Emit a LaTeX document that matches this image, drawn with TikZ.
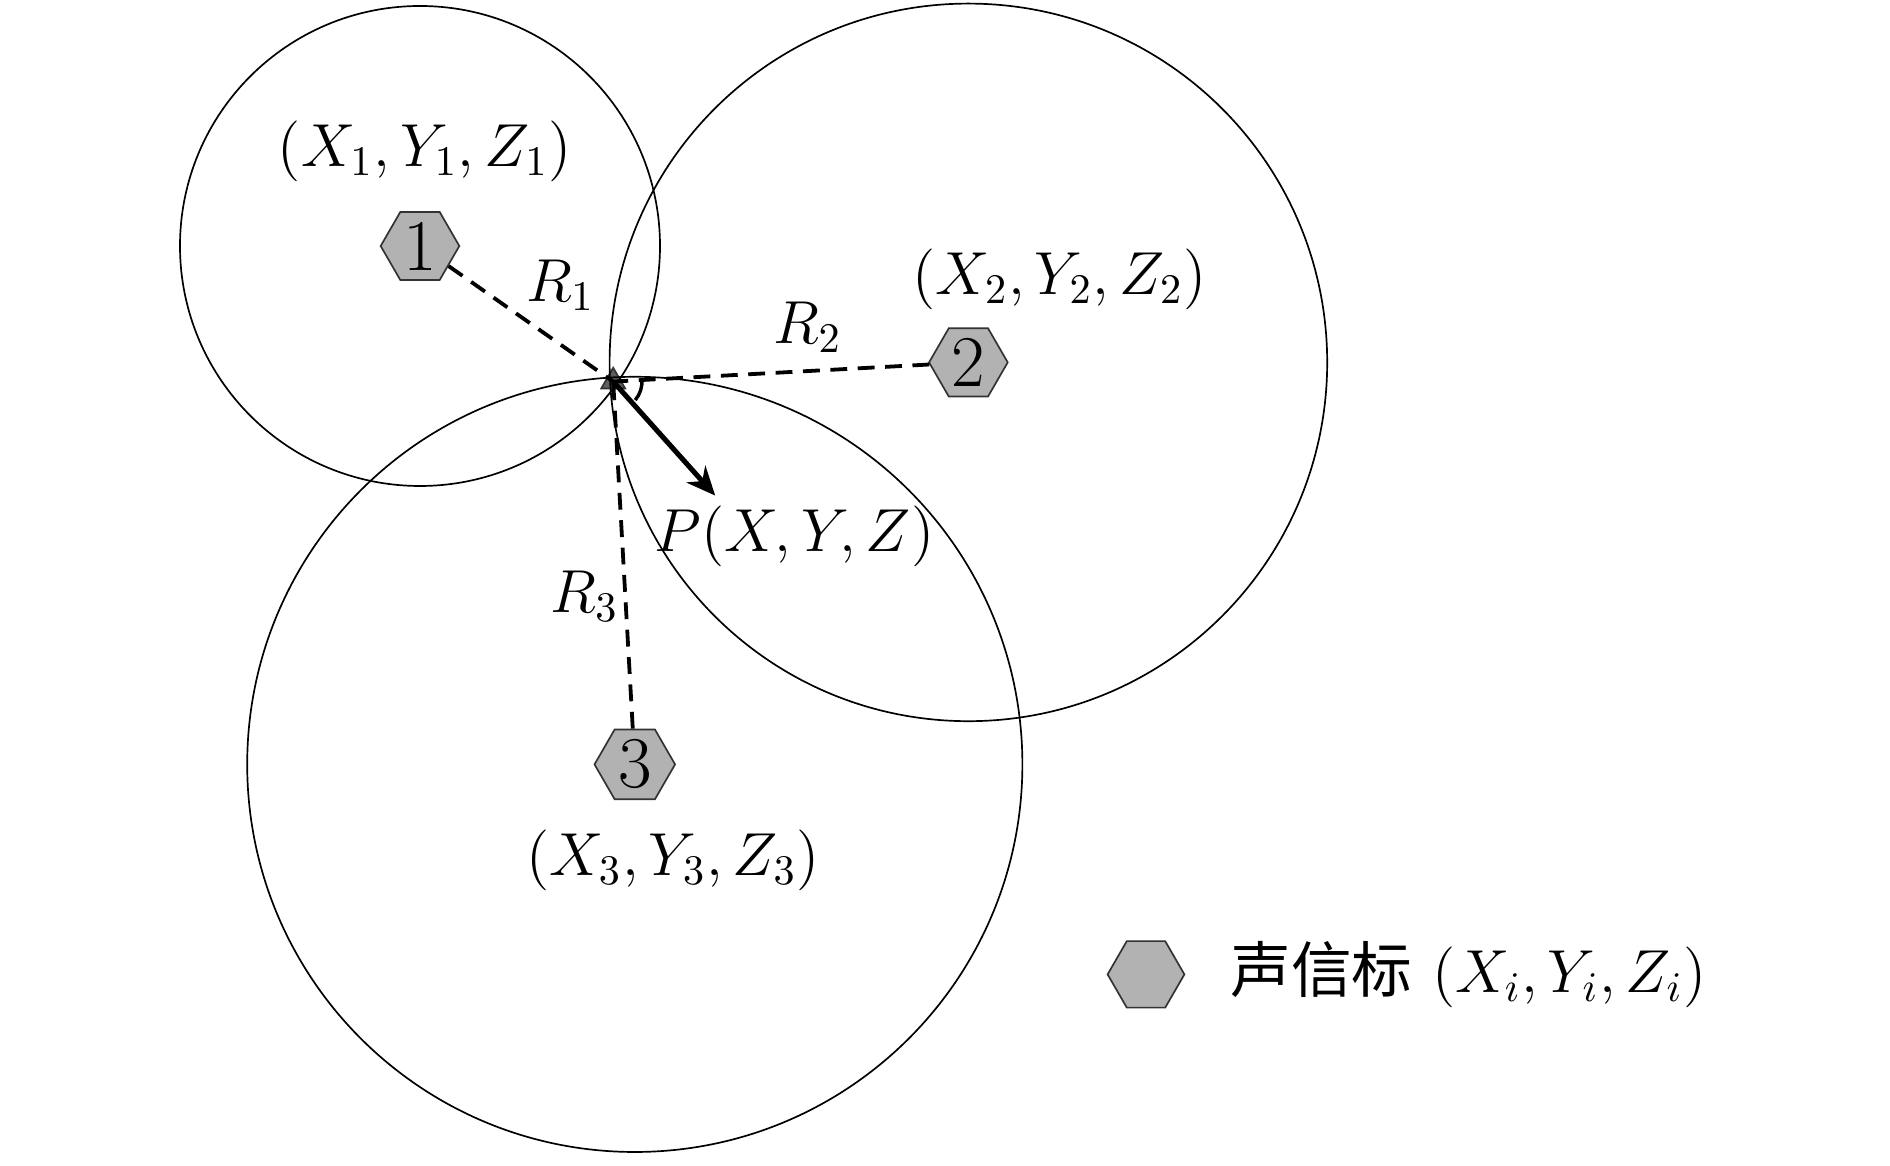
\documentclass[tikz,border=0pt]{standalone}
\usepackage{fontspec}
\newfontfamily\cjk{Noto Sans CJK SC}
\usetikzlibrary{shapes,arrows,arrows.meta,positioning}
\definecolor{beacongray}{RGB}{178,178,178}
\definecolor{targetgray}{RGB}{95,95,95}
\tikzset{
    % Beacon and target styles
    beacon/.style={
        regular polygon, regular polygon sides=6, draw=black!80, fill=beacongray,
        minimum size=0.64cm, inner sep=0pt, font=\LARGE
    },
    target/.style={
        regular polygon, regular polygon sides=3, draw=black!80, fill=targetgray,
        minimum size=0.23cm, inner sep=0pt
    },
    % Range lines and circles
    rangeline/.style={
        draw, line width=0.9pt, dash pattern=on 4pt off 2.5pt
    },
    ring/.style={
        draw, line width=0.4pt
    },
    coordlabel/.style={font=\Large}
}
\begin{document}
\begin{tikzpicture}
\useasboundingbox (0,0) rectangle (15.75,-9.71);

% Beacons and target
\node[beacon] (b1) at (3.50,-2.05) {1};
\node[beacon] (b2) at (8.07,-3.02) {2};
\node[beacon] (b3) at (5.29,-6.37) {3};
\node[target] (p) at (5.11,-3.18) {};

% Range circles
\draw[ring] (b1.center) circle (2.00);
\draw[ring] (b2.center) circle (2.99);
\draw[ring] (b3.center) circle (3.23);

% Ranges to the target
\draw[rangeline] (b1) -- (p.center);
\draw[rangeline] (b2) -- (p.center);
\draw[rangeline] (b3) -- (p.center);

% Heading of the target
\coordinate (heading) at (5.96,-4.13);
\draw[-{Stealth[length=2.4mm,width=2.1mm]}, line width=1.2pt] (p.center) -- (heading);
\draw[line width=0.8pt] ([shift={(5:0.24)}]p.center) arc (5:-40:0.24);

% Labels
\node[coordlabel] (c1) at (3.54,-1.26) {$(X_1,Y_1,Z_1)$};
\node[coordlabel] (c2) at (8.83,-2.33) {$(X_2,Y_2,Z_2)$};
\node[coordlabel] (c3) at (5.61,-7.17) {$(X_3,Y_3,Z_3)$};
\node[coordlabel] (r1) at (4.67,-2.38) {$R_1$};
\node[coordlabel] (r2) at (6.73,-2.73) {$R_2$};
\node[coordlabel] (r3) at (4.87,-4.97) {$R_3$};
\node[coordlabel] (pl) at (6.62,-4.47) {$P(X,Y,Z)$};

% Legend
\node[beacon] (key) at (9.55,-8.12) {};
\node[coordlabel, right=0.25cm of key] (keytext) {{\cjk 声信标} $(X_i,Y_i,Z_i)$};

\end{tikzpicture}
\end{document}
